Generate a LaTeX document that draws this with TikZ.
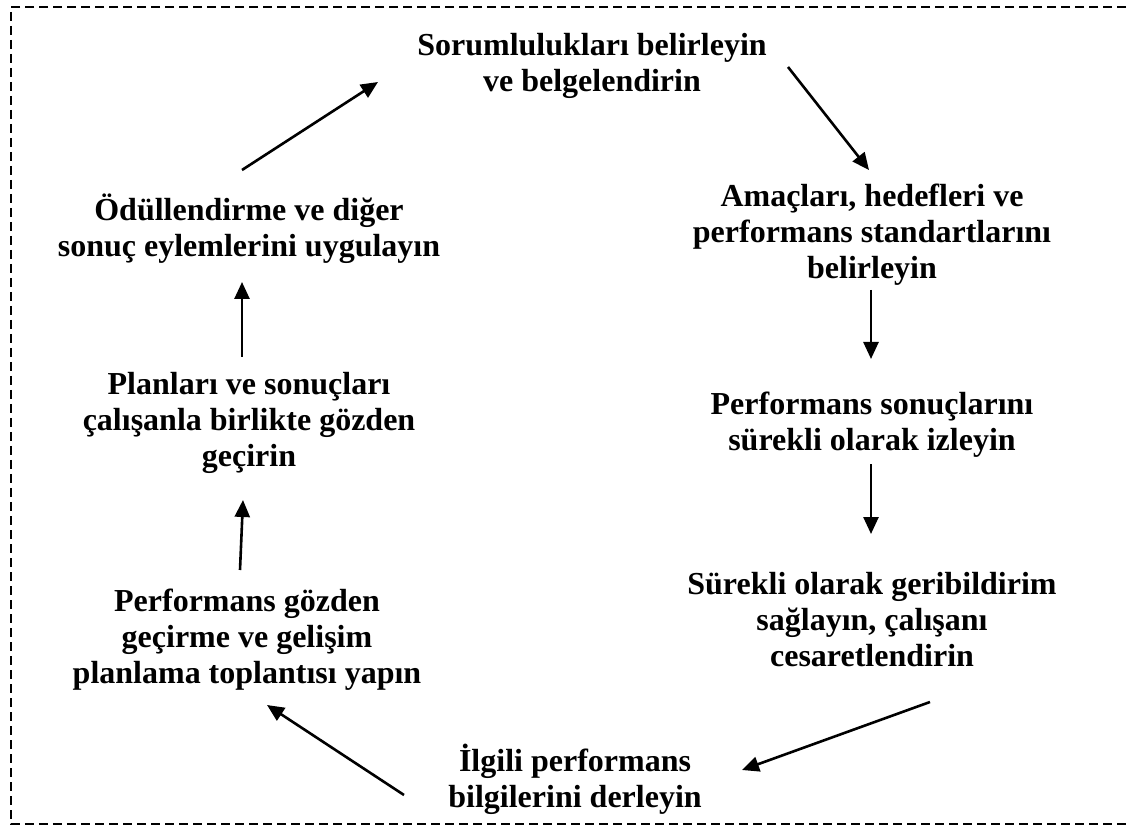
\documentclass[tikz,border=0pt]{standalone}
\usepackage{fontspec}
\setmainfont{Liberation Serif}
\usetikzlibrary{arrows.meta}
\tikzset{
  stage/.style={align=center, inner sep=0pt, font=\fontsize{32}{36}\selectfont\bfseries},
  flow/.style={line width=2.6pt, -{Triangle[length=17pt,width=15pt]}},
  frame/.style={line width=2pt, dash pattern=on 9pt off 5pt}
}
\begin{document}
\begin{tikzpicture}[x=1pt,y=-1pt]
  \useasboundingbox (0,0) rectangle (1128,826);
  \clip (0,0) rectangle (1128,826);
  % dashed frame, open on the right
  \draw[frame] (1140,7) -- (11,7) -- (11,824) -- (1140,824);

  % stages of the cycle
  \node[stage] (s1) at (592,66) {Sorumlulukları belirleyin\\ve belgelendirin};
  \node[stage] (s2) at (872,235) {Amaçları, hedefleri ve\\performans standartlarını\\belirleyin};
  \node[stage] (s3) at (872,425) {Performans sonuçlarını\\sürekli olarak izleyin};
  \node[stage] (s4) at (872,620) {Sürekli olarak geribildirim\\sağlayın, çalışanı\\cesaretlendirin};
  \node[stage] (s5) at (575,779) {İlgili performans\\bilgilerini derleyin};
  \node[stage] (s6) at (247,640) {Performans gözden\\geçirme ve gelişim\\planlama toplantısı yapın};
  \node[stage] (s7) at (249,423) {Planları ve sonuçları\\çalışanla birlikte gözden\\geçirin};
  \node[stage] (s8) at (249,229) {Ödüllendirme ve diğer\\sonuç eylemlerini uygulayın};

  % arrow end points
  \coordinate (a1s) at (242,170); \coordinate (a1e) at (378,82);
  \coordinate (a2s) at (788,67);  \coordinate (a2e) at (869,170);
  \coordinate (a3s) at (871,290); \coordinate (a3e) at (871,359);
  \coordinate (a4s) at (871,464); \coordinate (a4e) at (871,534);
  \coordinate (a5s) at (930,702); \coordinate (a5e) at (742,770);
  \coordinate (a6s) at (404,795); \coordinate (a6e) at (267,705);
  \coordinate (a7s) at (240,570); \coordinate (a7e) at (243,500);
  \coordinate (a8s) at (242,357); \coordinate (a8e) at (242,282);

  \draw[flow] (a1s) -- (a1e);
  \draw[flow] (a2s) -- (a2e);
  \draw[flow] (a3s) -- (a3e);
  \draw[flow] (a4s) -- (a4e);
  \draw[flow] (a5s) -- (a5e);
  \draw[flow] (a6s) -- (a6e);
  \draw[flow] (a7s) -- (a7e);
  \draw[flow] (a8s) -- (a8e);
\end{tikzpicture}
\end{document}
